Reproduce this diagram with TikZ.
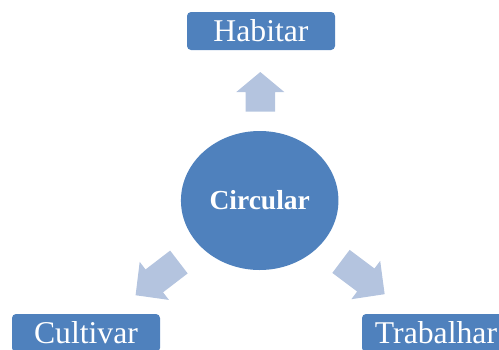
\documentclass[tikz,border=0pt]{standalone}
\usepackage{fontspec}
\setmainfont{Liberation Serif}
\usetikzlibrary{shapes.geometric}
\begin{document}
\definecolor{mainblue}{HTML}{4F81BD}
\definecolor{arrowblue}{HTML}{B4C4DF}
\begin{tikzpicture}[x=1pt,y=-1pt,
  labelbox/.style={draw=none,fill=mainblue,rounded corners=4pt,inner sep=0pt,
    minimum width=148pt,minimum height=38pt,text=white,
    font=\fontsize{31.7}{36}\selectfont,text height=20pt,text depth=0pt},
  hub/.style={ellipse,fill=mainblue,inner sep=0pt,minimum width=157.5pt,
    minimum height=139pt,text=white,
    font=\fontsize{27.5}{32}\selectfont\bfseries,text height=17pt,text depth=0pt},
  blockarrow/.style={fill=arrowblue,draw=none}]
\useasboundingbox (0,0) rectangle (499,349);
\clip (0,0) rectangle (499,349);

% central hub and the three activities
\node[hub] (circ) at (259.7,200.5) {Circular};
\node[labelbox] (hab) at (261,31) {Habitar};
\node[labelbox] (cult) at (86,333) {Cultivar};
\node[labelbox] (trab) at (436,333) {Trabalhar};

% block arrows pointing outwards from the hub
\path[blockarrow,shift={(260.3,111.7)},rotate=90]
  (0,-14.7) -- (19.7,-14.7) -- (19.7,-24) -- (39.7,0) -- (19.7,24) -- (19.7,14.7) -- (0,14.7) -- cycle;
\path[blockarrow,shift={(178.9,262)},rotate=217.5]
  (0,-14.4) -- (31,-14.4) -- (31,-24) -- (54.6,0) -- (31,24) -- (31,14.4) -- (0,14.4) -- cycle;
\path[blockarrow,shift={(341,261.4)},rotate=-36.9]
  (0,-14.4) -- (31,-14.4) -- (31,-24) -- (54.6,0) -- (31,24) -- (31,14.4) -- (0,14.4) -- cycle;
\end{tikzpicture}
\end{document}
